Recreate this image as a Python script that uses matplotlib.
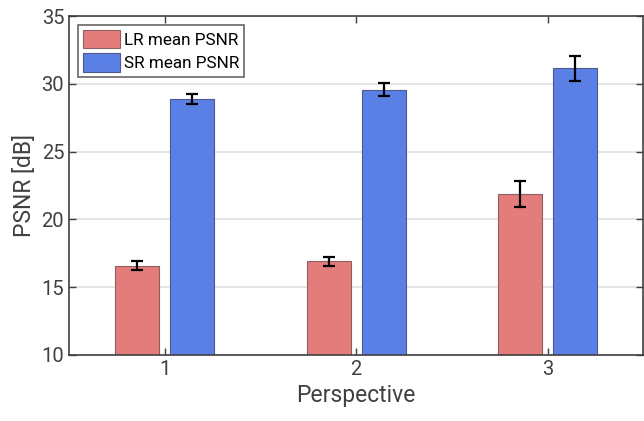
import matplotlib.pyplot as plt
import numpy as np

plt.rcParams['font.family'] = ['Roboto', 'DejaVu Sans']

perspectives = [1, 2, 3]
lr_mean = [16.6, 16.9, 21.9]
lr_err = [0.33, 0.31, 0.95]
sr_mean = [28.9, 29.56, 31.15]
sr_err = [0.37, 0.48, 0.92]

lr_color = '#e57c7c'
sr_color = '#5a80e6'
dark = '#404040'

fig = plt.figure(figsize=(6.44, 4.21), dpi=100)
ax = fig.add_axes([69 / 644, 66 / 421, 574.5 / 644, 339 / 421])

x = np.array(perspectives)
w = 0.23
off = 0.143
ax.bar(x - off, lr_mean, w, color=lr_color, edgecolor='#8a6060', linewidth=0.8,
       label='LR mean PSNR', zorder=2)
ax.bar(x + off, sr_mean, w, color=sr_color, edgecolor='#4a5a8a', linewidth=0.8,
       label='SR mean PSNR', zorder=2)
ax.errorbar(x - off, lr_mean, yerr=lr_err, fmt='none', ecolor='black',
            elinewidth=1.6, capsize=4, capthick=1.6, zorder=3)
ax.errorbar(x + off, sr_mean, yerr=sr_err, fmt='none', ecolor='black',
            elinewidth=1.6, capsize=4, capthick=1.6, zorder=3)

ax.set_xlim(0.5, 3.5)
ax.set_ylim(10, 35)
ax.set_xticks(perspectives)
ax.set_yticks([10, 15, 20, 25, 30, 35])
ax.yaxis.grid(True, color='#e0e0e0', linewidth=1.2, zorder=0)
ax.set_axisbelow(True)

ax.tick_params(direction='in', length=5, width=1, colors=dark, labelsize=14.5,
               top=True, right=True, labelcolor=dark)
for s in ax.spines.values():
    s.set_color(dark)
    s.set_linewidth(1.2)

ax.set_xlabel('Perspective', fontsize=16.5, color=dark)
ax.set_ylabel('PSNR [dB]', fontsize=16.5, color=dark)

leg = ax.legend(loc='upper left', fontsize=12.3, frameon=True, fancybox=False,
                edgecolor=dark, handlelength=2.2, handleheight=1.3,
                borderaxespad=0.5, labelspacing=0.3, handletextpad=0.2,
                borderpad=0.3)
leg.get_frame().set_linewidth(1.2)
for t in leg.get_texts():
    t.set_color('black')

fig.savefig('out.png', dpi=100)
